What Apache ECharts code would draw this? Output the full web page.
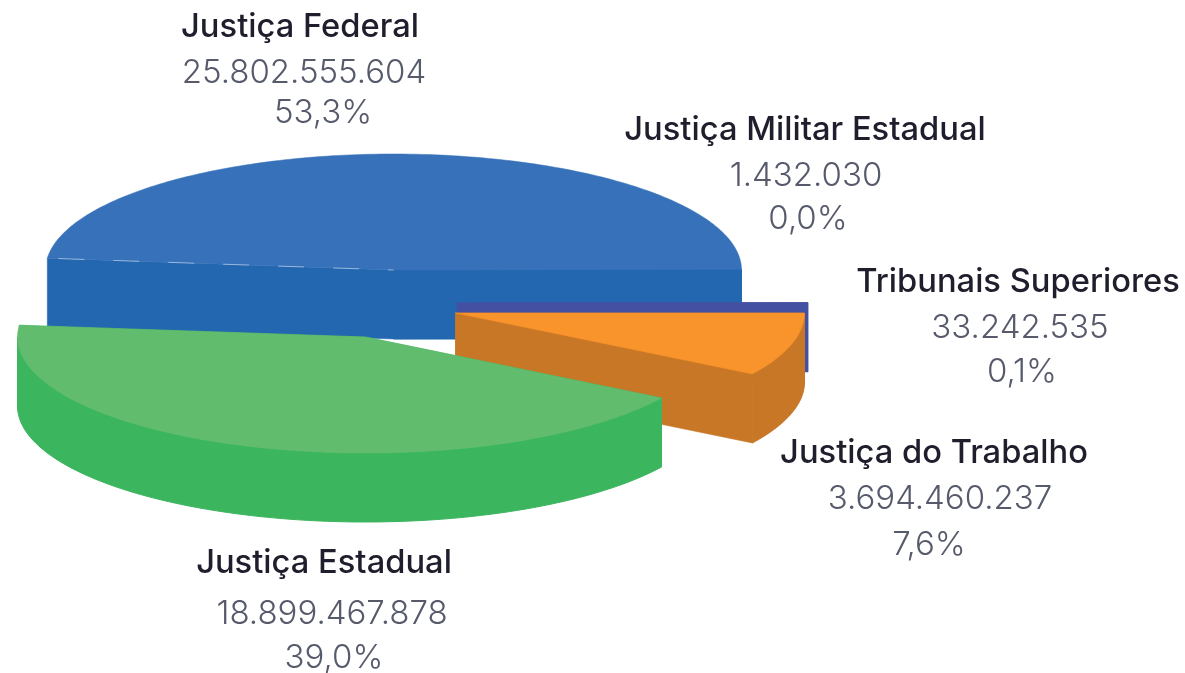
<!DOCTYPE html>
<html>
<head>
<meta charset="utf-8">
<title>Justiça</title>
<script src="https://cdn.jsdelivr.net/npm/echarts@6/dist/echarts.min.js"></script>
<style>
  html, body { margin: 0; background: #ffffff; }
  #chart { width: 1185px; height: 673px; }
</style>
</head>
<body>
<div id="chart"></div>
<script>
// clockwise from 3 o'clock, same order in every array
var categories = ["Justiça do Trabalho", "Justiça Estadual", "Justiça Federal", "Justiça Militar Estadual", "Tribunais Superiores"];
var values = [3694460237, 18899467878, 25802555604, 1432030, 33242535];
var valueLabels = ["3.694.460.237", "18.899.467.878", "25.802.555.604", "1.432.030", "33.242.535"];
var percentLabels = ["7,6%", "39,0%", "53,3%", "0,0%", "0,1%"];

// back to front
var drawOrder = [3, 2, 4, 0, 1];

var topColors = ["#f9932b", "#62bc6e", "#3671b9", "#3671b9", "#4451a3"];
var sideColors = ["#c77725", "#3cb55f", "#2267b0", "#2267b0", "#4451a3"];

// pie geometry
var pieCenter = [393.5, 270];
var explode = [[62, 43], [-28, 67], [0, 0], [0, 0], [63.5, 33]];
var radiusX = [349, 348, 348, 348, 351];
var radiusY = 116;
var depth = 69;
var warp = 18; // the drawn pie is not a true projection, angles get pushed round a bit

// centre x, centre y of each text line: name, value, percent
var labelPos = [
  [[934, 453], [940, 499], [929, 545]],
  [[324, 563], [332, 614], [334, 658]],
  [[300, 27], [304, 73], [323, 113]],
  [[805, 130], [806, 176], [808, 219]],
  [[1018, 282], [1020, 328], [1022, 372]]
];

var total = values.reduce(function (a, b) { return a + b; }, 0);

function sliceAngles(i) {
  var before = 0;
  for (var k = 0; k < i; k++) before += values[k];
  return [warpAngle(before / total * 360), warpAngle((before + values[i]) / total * 360)];
}
function warpAngle(deg) {
  return deg + warp * Math.sin(deg / 2 * Math.PI / 180);
}
function onRim(cx, cy, rx, deg, dy) {
  var a = deg * Math.PI / 180;
  return [cx + rx * Math.cos(a), cy + radiusY * Math.sin(a) + (dy || 0)];
}
function arc(cx, cy, rx, from, to, dy) {
  var pts = [];
  var steps = Math.max(1, Math.ceil(to - from));
  for (var s = 0; s <= steps; s++) pts.push(onRim(cx, cy, rx, from + (to - from) * s / steps, dy));
  return pts;
}
function poly(points, fill, lw) {
  return { type: "polygon", shape: { points: points }, style: { fill: fill, stroke: fill, lineWidth: lw } };
}
function line(x, y, text, bold) {
  return {
    type: "text",
    x: x,
    y: y,
    style: {
      text: text,
      align: "center",
      verticalAlign: "middle",
      fontFamily: "Inter",
      fontSize: bold ? 32.7 : 33,
      fontWeight: bold ? 500 : 300,
      fill: bold ? "#1e1e2c" : "#565a6b"
    }
  };
}

function renderSlice(params, api) {
  var i = api.value(0);
  var ang = sliceAngles(i);
  var cx = pieCenter[0] + explode[i][0];
  var cy = pieCenter[1] + explode[i][1];
  var rx = radiusX[i];
  var children = [];

  // the two cut faces
  [ang[0], ang[1]].forEach(function (deg) {
    var rim = onRim(cx, cy, rx, deg);
    children.push(poly([[cx, cy], rim, [rim[0], rim[1] + depth], [cx, cy + depth]], sideColors[i], 0.5));
  });

  // outer wall, only the part that faces us
  var from = Math.max(ang[0], 0);
  var to = Math.min(ang[1], 180);
  if (to > from) {
    children.push(poly(arc(cx, cy, rx, from, to).concat(arc(cx, cy, rx, from, to, depth).reverse()), sideColors[i], 1));
  }

  // top
  children.push(poly([[cx, cy]].concat(arc(cx, cy, rx, ang[0], ang[1])), topColors[i], 0.5));

  // dashes along the left cut of the federal slice
  if (i === 2) {
    var left = onRim(cx, cy, rx, ang[0]);
    children.push({
      type: "line",
      shape: { x1: left[0], y1: left[1], x2: cx, y2: cy },
      style: { stroke: "rgba(190,210,235,0.7)", lineWidth: 1, lineDash: [26, 29], lineDashOffset: 44 }
    });
  }

  children.push(line(labelPos[i][0][0], labelPos[i][0][1], categories[i], true));
  children.push(line(labelPos[i][1][0], labelPos[i][1][1], valueLabels[i], false));
  children.push(line(labelPos[i][2][0], labelPos[i][2][1], percentLabels[i], false));

  return { type: "group", children: children };
}

var chart = echarts.init(document.getElementById("chart"));
chart.setOption({
  backgroundColor: "#ffffff",
  animation: false,
  series: [{
    type: "custom",
    coordinateSystem: "none",
    renderItem: renderSlice,
    data: drawOrder.map(function (i) { return [i, values[i]]; })
  }]
});
</script>
</body>
</html>
